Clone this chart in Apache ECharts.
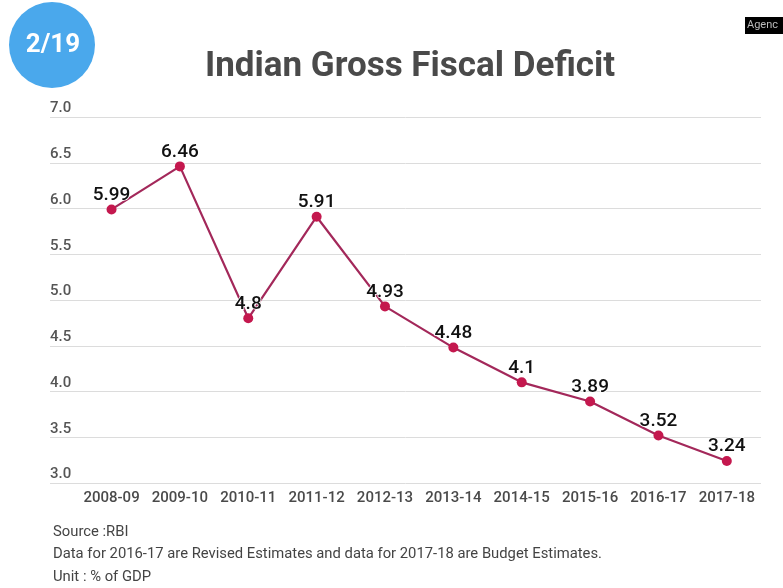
<!DOCTYPE html>
<html>
<head>
<meta charset="utf-8">
<script src="https://cdn.jsdelivr.net/npm/echarts@6/dist/echarts.min.js"></script>
<style>
  html, body { margin: 0; padding: 0; background: #ffffff; }
  #chart { width: 783px; height: 588px; }
</style>
</head>
<body>
<div id="chart"></div>
<script>
// Fiscal years and gross fiscal deficit (% of GDP)
const years = ['2008-09', '2009-10', '2010-11', '2011-12', '2012-13',
               '2013-14', '2014-15', '2015-16', '2016-17', '2017-18'];
const deficit = [5.99, 6.46, 4.8, 5.91, 4.93, 4.48, 4.1, 3.89, 3.52, 3.24];
const yTicks = [3.0, 3.5, 4.0, 4.5, 5.0, 5.5, 6.0, 6.5, 7.0];
const notes = [
  'Source :RBI',
  'Data for 2016-17 are Revised Estimates and data for 2017-18 are Budget Estimates.',
  'Unit : % of GDP'
];

const chart = echarts.init(document.getElementById('chart'), null, { renderer: 'canvas' });
const FONT = 'Roboto';

chart.setOption({
  backgroundColor: '#ffffff',
  animation: false,
  title: {
    text: 'Indian Gross Fiscal Deficit',
    left: 405,
    textAlign: 'center',
    top: 45,
    textStyle: { fontFamily: FONT, fontSize: 35, fontWeight: 'bold', color: '#4a4a4a' }
  },
  grid: { left: 50, right: 22, top: 117, bottom: 105 },
  xAxis: {
    type: 'value',
    min: -0.9,
    max: 9.5,
    splitLine: { show: false },
    axisLine: { show: false },
    axisTick: { show: false },
    axisLabel: {
      customValues: years.map((_, i) => i),
      formatter: v => years[Math.round(v)] || '',
      fontFamily: FONT, fontSize: 15, fontWeight: 500, color: '#4a4a4a', margin: 8
    }
  },
  yAxis: {
    type: 'value',
    min: yTicks[0],
    max: yTicks[yTicks.length - 1],
    interval: 0.5,
    axisLine: { show: false },
    axisTick: { show: false },
    splitLine: { lineStyle: { color: '#dcdcdc', width: 1 } },
    axisLabel: {
      inside: true,
      margin: 0,
      verticalAlign: 'bottom',
      padding: [0, 0, 1, 0],
      formatter: v => v.toFixed(1),
      fontFamily: FONT, fontSize: 15, fontWeight: 500, color: '#555'
    }
  },
  series: [{
    type: 'line',
    data: deficit.map((v, i) => [i, v]),
    symbol: 'circle',
    symbolSize: 10,
    lineStyle: { color: '#a3285a', width: 2.2 },
    itemStyle: { color: '#c4184e' },
    label: {
      show: true,
      position: 'top',
      distance: 0,
      formatter: p => String(p.value[1]),
      fontFamily: FONT, fontSize: 19, fontWeight: 500, color: '#111',
      textBorderColor: '#ffffff', textBorderWidth: 1.5
    },
    z: 3
  }],
  graphic: [
    {
      type: 'circle',
      shape: { cx: 52, cy: 45, r: 43 },
      style: { fill: '#4aa8ec' }
    },
    {
      type: 'text',
      x: 53, y: 45,
      style: {
        text: '2/19', fill: '#ffffff', align: 'center', verticalAlign: 'middle',
        font: 'bold 26px Roboto'
      }
    },
    {
      type: 'rect',
      shape: { x: 745, y: 17, width: 40, height: 17 },
      style: { fill: '#000000' }
    },
    {
      type: 'text',
      x: 747, y: 25.5,
      style: { text: 'Agenc', fill: '#bbbbbb', verticalAlign: 'middle', font: '11px Roboto' }
    },
    ...notes.map((t, i) => ({
      type: 'text',
      x: 53, y: 532 + i * 22.5,
      style: { text: t, fill: '#444', verticalAlign: 'middle', font: '14.8px Roboto' }
    }))
  ]
});
</script>
</body>
</html>
